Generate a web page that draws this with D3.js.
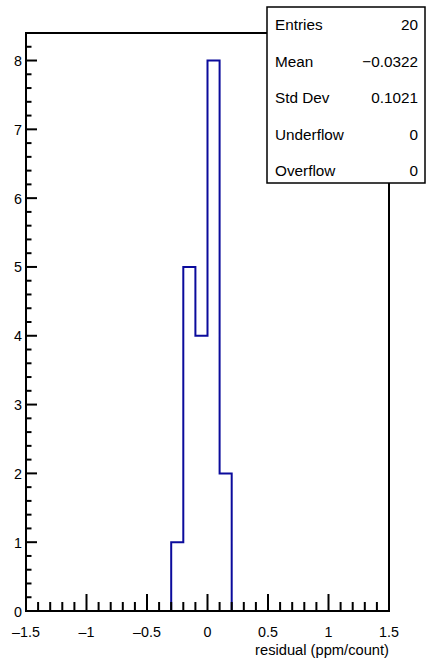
<!DOCTYPE html>
<html>
<head>
<meta charset="utf-8">
<script src="https://cdn.jsdelivr.net/npm/d3@7"></script>
<style>
  body { margin: 0; background: #fff; }
  svg { display: block; font-family: "Liberation Sans", Arial, sans-serif; }
</style>
</head>
<body>
<svg id="chart" width="426" height="660"></svg>
<script>
// histogram bins (lower edge) and counts
var binEdges = [-0.3, -0.2, -0.1, 0.0, 0.1, 0.2];
var counts = [1, 5, 4, 8, 2];
var xTicks = [-1.5, -1, -0.5, 0, 0.5, 1, 1.5];
var yTicks = [0, 1, 2, 3, 4, 5, 6, 7, 8];
var statLabels = ["Entries", "Mean", "Std Dev", "Underflow", "Overflow"];
var statValues = ["20", "\u22120.0322", "0.1021", "0", "0"];

var margin = { top: 33, right: 37, bottom: 49, left: 26 };
var W = 426, H = 660;
var width = W - margin.left - margin.right;
var height = H - margin.top - margin.bottom;

var svg = d3.select('#chart');
var g = svg.append('g').attr('transform', 'translate(' + margin.left + ',' + margin.top + ')');

var x = d3.scaleLinear().domain([-1.5, 1.5]).range([0, width]);
var y = d3.scaleLinear().domain([0, 8.4]).range([height, 0]);

function fmt(v) {
  return v < 0 ? '\u2013' + Math.abs(v) : String(v);
}

// histogram outline
var pts = [[binEdges[0], 0]];
counts.forEach(function (c, i) {
  pts.push([binEdges[i], c]);
  pts.push([binEdges[i + 1], c]);
});
pts.push([binEdges[binEdges.length - 1], 0]);

g.append('path')
  .datum(pts)
  .attr('fill', 'none')
  .attr('stroke', '#0b0b9c')
  .attr('stroke-width', 2)
  .attr('d', d3.line().x(function (d) { return x(d[0]); }).y(function (d) { return y(d[1]); }));

// frame
g.append('rect')
  .attr('x', 0).attr('y', 0)
  .attr('width', width).attr('height', height)
  .attr('fill', 'none').attr('stroke', '#000').attr('stroke-width', 2);

// x axis ticks
var xMinor = d3.range(-15, 16).map(function (i) { return i / 10; });
g.append('g').selectAll('line').data(xMinor).enter().append('line')
  .attr('x1', function (d) { return x(d); }).attr('x2', function (d) { return x(d); })
  .attr('y1', height)
  .attr('y2', function (d, i) { return height - (i % 5 === 0 ? 17 : 9); })
  .attr('stroke', '#000').attr('stroke-width', 2);

g.append('g').selectAll('text').data(xTicks).enter().append('text')
  .attr('x', function (d) { return x(d); })
  .attr('y', height + 25.5)
  .attr('text-anchor', 'middle')
  .attr('font-size', 14.3)
  .text(fmt);

// y axis ticks
var yMinor = d3.range(0, 43).map(function (i) { return i / 5; });
g.append('g').selectAll('line').data(yMinor).enter().append('line')
  .attr('x1', 0)
  .attr('x2', function (d, i) { return i % 5 === 0 ? 11 : 5.5; })
  .attr('y1', function (d) { return y(d); }).attr('y2', function (d) { return y(d); })
  .attr('stroke', '#000').attr('stroke-width', 2);

g.append('g').selectAll('text').data(yTicks).enter().append('text')
  .attr('x', -4)
  .attr('y', function (d) { return y(d) + 5.5; })
  .attr('text-anchor', 'end')
  .attr('font-size', 14.3)
  .text(fmt);

// x axis title
g.append('text')
  .attr('x', width)
  .attr('y', height + 44)
  .attr('text-anchor', 'end')
  .attr('font-size', 14.7)
  .text('residual (ppm/count)');

// stats box
var box = svg.append('g').attr('transform', 'translate(267,7)');
box.append('rect')
  .attr('x', 0).attr('y', 0).attr('width', 158).attr('height', 176)
  .attr('fill', '#fff').attr('stroke', '#000').attr('stroke-width', 1.5);
statLabels.forEach(function (lab, i) {
  var ty = 23 + i * 36.5;
  box.append('text').attr('x', 8).attr('y', ty).attr('font-size', 15.3).text(lab);
  box.append('text').attr('x', 151).attr('y', ty).attr('font-size', 15.3)
    .attr('text-anchor', 'end').text(statValues[i]);
});
</script>
</body>
</html>
